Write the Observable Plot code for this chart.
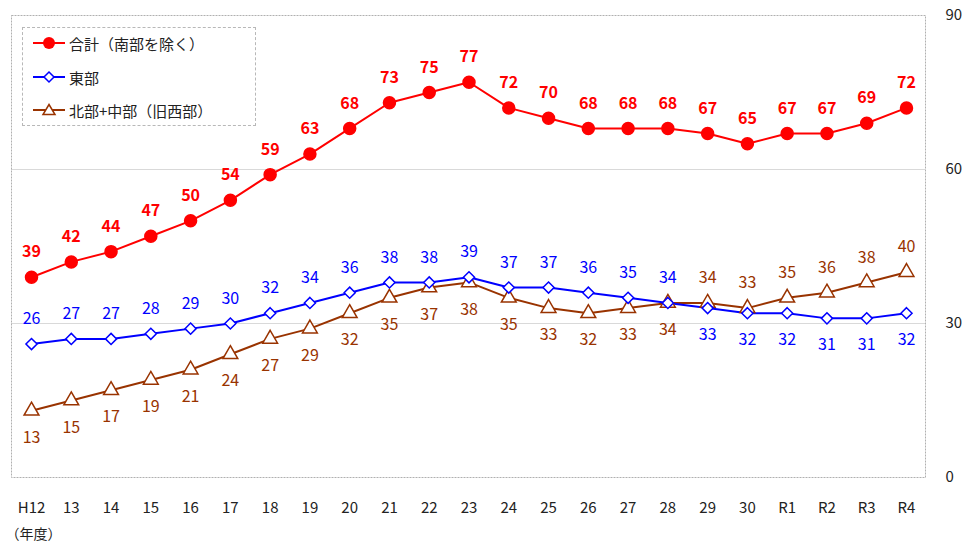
<!DOCTYPE html>
<html><head><meta charset="utf-8">
<script src="https://cdn.jsdelivr.net/npm/d3@7"></script>
<script src="https://cdn.jsdelivr.net/npm/@observablehq/plot@0.6"></script>
<style>
body{margin:0;background:#fff;}
#wrap{position:relative;width:972px;height:548px;}
#legend{position:absolute;left:22px;top:27px;width:232px;height:97px;border:1px dashed #b8b8b8;background:#fff;font-family:"Noto Sans CJK JP",sans-serif;font-size:15px;color:#222;}
.row{position:absolute;left:10px;height:20px;display:flex;align-items:center;white-space:nowrap;}
.row svg{margin-right:4px;}
</style>
</head><body>
<div id="wrap"></div>
<script>
const years = ["H12","13","14","15","16","17","18","19","20","21","22","23","24","25","26","27","28","29","30","R1","R2","R3","R4"];
const total = [39,42,44,47,50,54,59,63,68,73,75,77,72,70,68,68,68,67,65,67,67,69,72];
const east = [26,27,27,28,29,30,32,34,36,38,38,39,37,37,36,35,34,33,32,32,31,31,32];
const northCentral = [13,15,17,19,21,24,27,29,32,35,37,38,35,33,32,33,34,34,33,35,36,38,40];
const seriesNames = ["合計（南部を除く）","東部","北部+中部（旧西部）"];
const yTicks = [0,30,60,90];

const RED = "#ff0000", BLUE = "#0000ff", BROWN = "#993300";
const font = '"Noto Sans CJK JP", sans-serif';

const rows = (vals, s) => vals.map((v, i) => ({year: years[i], value: v, series: s, i}));
const tRows = rows(total, seriesNames[0]);
const eRows = rows(east, seriesNames[1]);
const nRows = rows(northCentral, seriesNames[2]);
const SWITCH = 16; // labels change side after this index

const plot = Plot.plot({
  width: 972, height: 548,
  marginLeft: 11, marginRight: 47, marginTop: 15, marginBottom: 71,
  style: {fontFamily: font, fontSize: "16px", background: "#fff"},
  x: {type: "point", domain: years, range: [31, 906], padding: 0, round: false},
  y: {domain: [0, 90], range: [477, 15]},
  marks: [
    Plot.ruleY([30, 60], {stroke: "#d9d9d9", strokeWidth: 1}),
    Plot.frame({stroke: "#b0b0b0", strokeDasharray: "2,1"}),
    Plot.axisY({anchor: "right", ticks: yTicks, tickSize: 0, tickPadding: 20, textAnchor: "start", fill: "#222", fontSize: 15, label: null}),
    Plot.axisX({anchor: "bottom", tickSize: 0, tickPadding: 25, fill: "#222", fontSize: 15, label: null}),
    Plot.text(["（年度）"], {frameAnchor: "bottom-left", dx: -6, dy: 61, textAnchor: "start", fill: "#222", fontSize: 14}),
    Plot.line(nRows, {x: "year", y: "value", stroke: BROWN, strokeWidth: 2}),
    Plot.line(eRows, {x: "year", y: "value", stroke: BLUE, strokeWidth: 2}),
    Plot.line(tRows, {x: "year", y: "value", stroke: RED, strokeWidth: 2}),
    Plot.dot(nRows, {x: "year", y: "value", symbol: "triangle", r: 5.5, stroke: BROWN, fill: "#fff", strokeWidth: 1.5}),
    Plot.dot(eRows, {x: "year", y: "value", symbol: "diamond2", r: 5, stroke: BLUE, fill: "#fff", strokeWidth: 1.5}),
    Plot.dot(tRows, {x: "year", y: "value", symbol: "circle", r: 6, fill: RED, stroke: RED}),
    Plot.text(tRows, {x: "year", y: "value", text: "value", dy: -25, fill: RED, fontWeight: "bold", fontSize: 16}),
    Plot.text(eRows.filter(d => d.i <= SWITCH), {x: "year", y: "value", text: "value", dy: -25, fill: BLUE, fontSize: 16}),
    Plot.text(eRows.filter(d => d.i > SWITCH), {x: "year", y: "value", text: "value", dy: 27, fill: BLUE, fontSize: 16}),
    Plot.text(nRows.filter(d => d.i <= SWITCH), {x: "year", y: "value", text: "value", dy: 27, fill: BROWN, fontSize: 16}),
    Plot.text(nRows.filter(d => d.i > SWITCH), {x: "year", y: "value", text: "value", dy: -25, fill: BROWN, fontSize: 16})
  ]
});
const wrap = document.getElementById("wrap");
wrap.appendChild(plot);

const legend = document.createElement("div");
legend.id = "legend";
const sym = [
  `<circle cx="16" cy="8" r="6" fill="${RED}"/>`,
  `<path d="M16 3 L21 8 L16 13 L11 8 Z" fill="#fff" stroke="${BLUE}" stroke-width="1.5"/>`,
  `<path d="M16 2.5 L22 12.5 L10 12.5 Z" fill="#fff" stroke="${BROWN}" stroke-width="1.5"/>`
];
const cols = [RED, BLUE, BROWN];
const tops = [5, 39, 72];
seriesNames.forEach((name, k) => {
  const r = document.createElement("div");
  r.className = "row";
  r.style.top = tops[k] + "px";
  r.innerHTML = `<svg width="32" height="16"><line x1="0" y1="8" x2="32" y2="8" stroke="${cols[k]}" stroke-width="2"/>${sym[k]}</svg><span>${name}</span>`;
  legend.appendChild(r);
});
wrap.appendChild(legend);
</script>
</body></html>
